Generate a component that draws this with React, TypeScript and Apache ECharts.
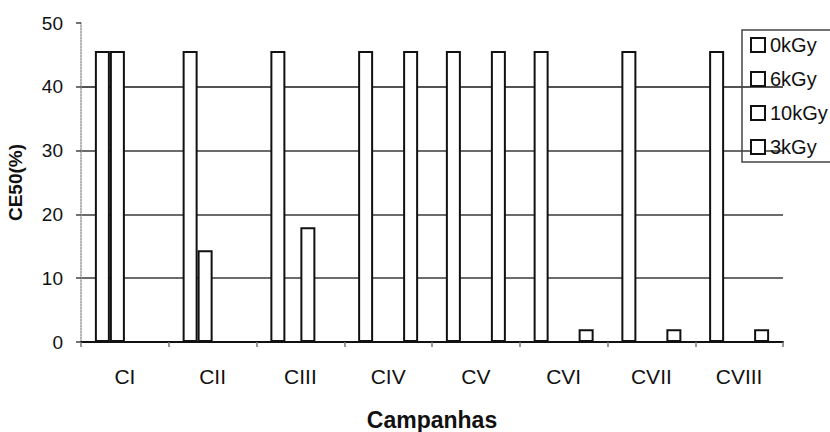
import React, { useEffect, useRef } from "react";
import * as echarts from "echarts";

const categories = ["CI", "CII", "CIII", "CIV", "CV", "CVI", "CVII", "CVIII"];
const seriesNames = ["0kGy", "6kGy", "10kGy", "3kGy"];
const values0kGy = [45.6, 45.6, 45.6, 45.6, 45.6, 45.6, 45.6, 45.6];
const values6kGy = [45.6, 14.4, null, null, null, null, null, null];
const values10kGy = [null, null, 18, null, null, null, null, null];
const values3kGy = [null, null, null, 45.6, 45.6, 2, 2, 2];
const yTicks = [0, 10, 20, 30, 40, 50];

const FONT = "'Liberation Sans', Arial, sans-serif";

export default function App() {
  const ref = useRef<HTMLDivElement>(null);
  useEffect(() => {
    document.body.style.margin = "0";
    if (!ref.current) return;
    const chart = echarts.init(ref.current, null, { renderer: "svg" });
    const allValues = [values0kGy, values6kGy, values10kGy, values3kGy];
    chart.setOption({
      animation: false,
      backgroundColor: "#ffffff",
      textStyle: { fontFamily: FONT, color: "#111" },
      grid: {
        left: 81,
        right: 47,
        top: 23,
        bottom: 90,
        containLabel: false,
        outerBoundsMode: "none",
      },
      legend: {
        orient: "vertical",
        left: 742,
        top: 30,
        padding: [5, 20, 5, 8],
        borderColor: "#444",
        borderWidth: 1.5,
        itemWidth: 14,
        itemHeight: 14,
        itemGap: 14,
        icon: "rect",
        selectedMode: false,
        itemStyle: { color: "#ffffff", borderColor: "#111", borderWidth: 2 },
        textStyle: { fontFamily: FONT, fontSize: 20, color: "#111", lineHeight: 20 },
        data: seriesNames,
      },
      xAxis: {
        type: "category",
        data: categories,
        name: "Campanhas",
        nameLocation: "middle",
        nameGap: 66,
        nameTextStyle: { fontFamily: FONT, fontSize: 23, fontWeight: "bold", color: "#111" },
        axisLine: { show: true, lineStyle: { color: "#111", width: 2 } },
        axisTick: { show: true, length: 5, lineStyle: { color: "#777", width: 1.5 } },
        axisLabel: { fontFamily: FONT, fontSize: 21, color: "#111", margin: 24 },
      },
      yAxis: {
        type: "value",
        min: yTicks[0],
        max: yTicks[yTicks.length - 1],
        interval: 10,
        name: "CE50(%)",
        nameLocation: "middle",
        nameGap: 56,
        nameTextStyle: { fontFamily: FONT, fontSize: 19, fontWeight: "bold", color: "#111" },
        axisLine: { show: true, lineStyle: { color: "#999", width: 1.5, type: "dotted" } },
        axisTick: { show: true, length: 5, lineStyle: { color: "#444", width: 1.5 } },
        axisLabel: { fontFamily: FONT, fontSize: 19, color: "#111", margin: 18 },
        splitLine: {
          show: true,
          lineStyle: {
            color: ["transparent", "#3a3a3a", "#3a3a3a", "#3a3a3a", "#1a1a1a", "transparent"],
            width: 1.5,
          },
        },
      },
      series: seriesNames.map((name, i) => ({
        name,
        type: "bar",
        data: allValues[i],
        barWidth: 15,
        barGap: "0%",
        itemStyle: { color: "#ffffff", borderColor: "#111", borderWidth: 2 },
      })),
    });
    return () => chart.dispose();
  }, []);
  return (
    <div
      ref={ref}
      style={{ position: "absolute", left: 0, top: 0, width: 830, height: 432 }}
    />
  );
}
